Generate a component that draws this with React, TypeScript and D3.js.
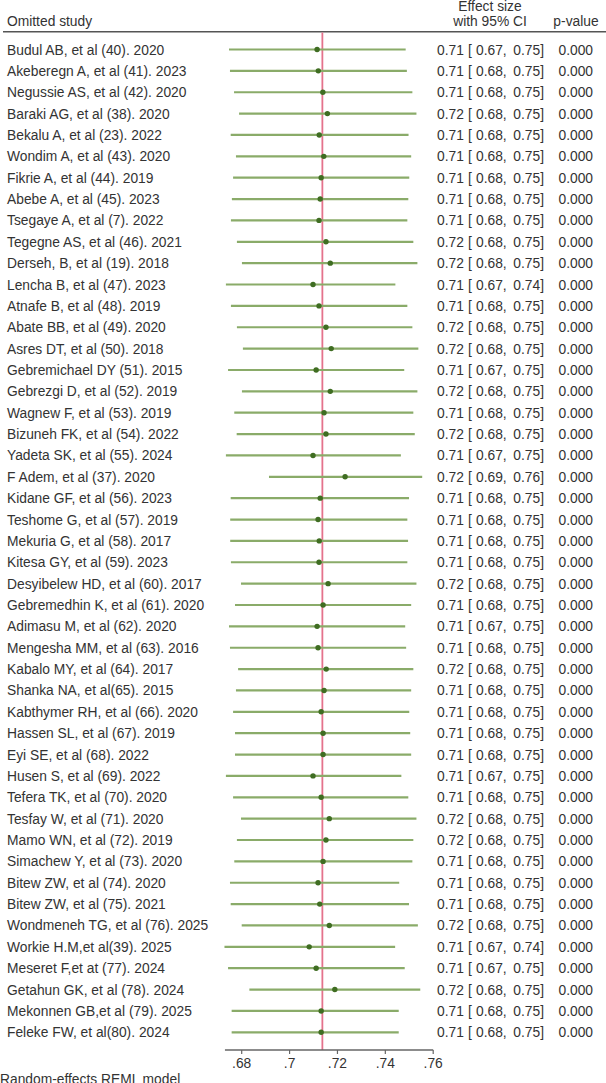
import React, { useEffect, useRef } from "react";
import * as d3 from "d3";

// Leave-one-out sensitivity analysis (random-effects REML)
const studies = [
  "Budul AB, et al (40). 2020",
  "Akeberegn A, et al (41). 2023",
  "Negussie AS, et al (42). 2020",
  "Baraki AG, et al (38). 2020",
  "Bekalu A, et al (23). 2022",
  "Wondim A, et al (43). 2020",
  "Fikrie A, et al (44). 2019",
  "Abebe A, et al (45). 2023",
  "Tsegaye A, et al (7). 2022",
  "Tegegne AS, et al (46). 2021",
  "Derseh, B, et al (19). 2018",
  "Lencha B, et al (47). 2023",
  "Atnafe B, et al (48). 2019",
  "Abate BB, et al (49). 2020",
  "Asres DT, et al (50). 2018",
  "Gebremichael DY (51). 2015",
  "Gebrezgi D, et al (52). 2019",
  "Wagnew F, et al (53). 2019",
  "Bizuneh FK, et al (54). 2022",
  "Yadeta SK, et al (55). 2024",
  "F Adem, et al (37). 2020",
  "Kidane GF, et al (56). 2023",
  "Teshome G, et al (57). 2019",
  "Mekuria G, et al (58). 2017",
  "Kitesa GY, et al (59). 2023",
  "Desyibelew HD, et al (60). 2017",
  "Gebremedhin K, et al (61). 2020",
  "Adimasu M, et al (62). 2020",
  "Mengesha MM, et al (63). 2016",
  "Kabalo MY, et al (64). 2017",
  "Shanka NA, et al(65). 2015",
  "Kabthymer RH, et al (66). 2020",
  "Hassen SL, et al (67). 2019",
  "Eyi SE, et al (68). 2022",
  "Husen S, et al (69). 2022",
  "Tefera TK, et al (70). 2020",
  "Tesfay W, et al (71). 2020",
  "Mamo WN, et al (72). 2019",
  "Simachew Y, et al (73). 2020",
  "Bitew ZW, et al (74). 2020",
  "Bitew ZW, et al (75). 2021",
  "Wondmeneh TG, et al (76). 2025",
  "Workie H.M,et al(39). 2025",
  "Meseret F,et at (77). 2024",
  "Getahun GK, et al (78). 2024",
  "Mekonnen GB,et al (79). 2025",
  "Feleke FW, et al(80). 2024",
];

const estimates = [
  0.7115, 0.712, 0.7139, 0.7158, 0.7124, 0.7143, 0.7132, 0.7128, 0.7123, 0.7152,
  0.717, 0.7098, 0.7123, 0.7152, 0.7174, 0.7111, 0.717, 0.7144, 0.7152, 0.7098,
  0.7232, 0.7128, 0.7119, 0.7124, 0.7123, 0.7161, 0.714, 0.7115, 0.7119, 0.7153,
  0.7144, 0.7132, 0.714, 0.714, 0.7098, 0.7132, 0.7166, 0.7152, 0.714, 0.7119,
  0.7126, 0.7166, 0.7082, 0.7111, 0.7189, 0.7132, 0.7132,
];

const lower = [
  0.6747, 0.6751, 0.6768, 0.6789, 0.6754, 0.6776, 0.6764, 0.6759, 0.6755, 0.678,
  0.6801, 0.6734, 0.6755, 0.678, 0.6805, 0.6743, 0.6801, 0.6769, 0.6779, 0.6734,
  0.6914, 0.6754, 0.6752, 0.6752, 0.6755, 0.6797, 0.6772, 0.6747, 0.6751, 0.6785,
  0.6776, 0.6764, 0.6772, 0.6772, 0.6734, 0.6764, 0.6797, 0.678, 0.6769, 0.6751,
  0.6754, 0.68, 0.6728, 0.6743, 0.6832, 0.6758, 0.6758,
];

const upper = [
  0.7485, 0.749, 0.7513, 0.753, 0.7497, 0.7508, 0.75, 0.7496, 0.7492, 0.7517,
  0.7534, 0.7442, 0.7492, 0.7513, 0.7538, 0.7479, 0.7534, 0.7517, 0.7523, 0.7465,
  0.7554, 0.7499, 0.7492, 0.7495, 0.7492, 0.753, 0.7508, 0.7483, 0.7487, 0.7517,
  0.7508, 0.75, 0.7504, 0.7508, 0.7467, 0.7496, 0.753, 0.7517, 0.7513, 0.7458,
  0.7499, 0.7536, 0.7441, 0.7481, 0.7546, 0.7456, 0.7456,
];

const pValues = new Array(studies.length).fill(0);

const overall = 0.7137;
const xTicks = [0.68, 0.7, 0.72, 0.74, 0.76];

const WIDTH = 606;
const HEIGHT = 1083;
const FONT = "'Liberation Sans', Arial, sans-serif";
const FONT_SIZE = 13.8;
const TEXT = "#333";

const ForestPlot: React.FC = () => {
  const svgRef = useRef<SVGSVGElement>(null);

  useEffect(() => {
    if (!svgRef.current) return;
    const svg = d3.select(svgRef.current);
    svg.selectAll("*").remove();

    const x = d3.scaleLinear().domain([0.68, 0.76]).range([241.7, 433.2]);
    const y = d3.scalePoint<number>()
      .domain(d3.range(studies.length))
      .range([49.5, 1032.3]);

    const axisY = 1050;
    const fmt2 = d3.format(".2f");
    const fmt3 = d3.format(".3f");

    // Column headers
    const header = svg.append("g")
      .attr("font-family", FONT)
      .attr("font-size", FONT_SIZE)
      .attr("fill", TEXT);
    header.append("text").attr("x", 7).attr("y", 26).text("Omitted study");
    header.append("text").attr("x", 490).attr("y", 11).attr("text-anchor", "middle").text("Effect size");
    header.append("text").attr("x", 490).attr("y", 26).attr("text-anchor", "middle").text("with 95% CI");
    header.append("text").attr("x", 576).attr("y", 26).attr("text-anchor", "middle").text("p-value");

    svg.append("line")
      .attr("x1", 3).attr("x2", WIDTH)
      .attr("y1", 31.7).attr("y2", 31.7)
      .attr("stroke", "#555").attr("stroke-width", 1.5);

    // Overall pooled estimate reference line
    svg.append("line")
      .attr("x1", x(overall)).attr("x2", x(overall))
      .attr("y1", 32.5).attr("y2", axisY)
      .attr("stroke", "#e4728c").attr("stroke-width", 1.8);

    const rows = svg.append("g")
      .selectAll("g")
      .data(studies.map((name, i) => ({ name, i })))
      .join("g")
      .attr("transform", d => `translate(0,${y(d.i)})`);

    rows.append("line")
      .attr("x1", d => x(lower[d.i]))
      .attr("x2", d => x(upper[d.i]))
      .attr("stroke", "#8aab69")
      .attr("stroke-width", 2.2);

    rows.append("circle")
      .attr("cx", d => x(estimates[d.i]))
      .attr("r", 2.7)
      .attr("fill", "#3f6d22");

    const label = rows.append("g")
      .attr("font-family", FONT)
      .attr("font-size", FONT_SIZE)
      .attr("fill", TEXT);

    label.append("text").attr("x", 7).attr("y", 5).text(d => d.name);
    label.append("text").attr("x", 437).attr("y", 5).text(d => fmt2(estimates[d.i]));
    label.append("text").attr("x", 468).attr("y", 5).text("[");
    label.append("text").attr("x", 476).attr("y", 5).text(d => `${fmt2(lower[d.i])},`);
    label.append("text").attr("x", 544).attr("y", 5).attr("text-anchor", "end")
      .text(d => `${fmt2(upper[d.i])}]`);
    label.append("text").attr("x", 593).attr("y", 5).attr("text-anchor", "end")
      .text(d => fmt3(pValues[d.i]));

    // X axis, Stata-style labels without leading zero
    svg.append("line")
      .attr("x1", x(0.673)).attr("x2", x(0.76))
      .attr("y1", axisY).attr("y2", axisY)
      .attr("stroke", "#666").attr("stroke-width", 1.3);

    const ticks = svg.append("g").selectAll("g")
      .data(xTicks)
      .join("g")
      .attr("transform", d => `translate(${x(d)},${axisY})`);
    ticks.append("line").attr("y1", 0).attr("y2", 4).attr("stroke", "#666").attr("stroke-width", 1.2);
    ticks.append("text")
      .attr("y", 18)
      .attr("text-anchor", "middle")
      .attr("font-family", FONT)
      .attr("font-size", FONT_SIZE)
      .attr("fill", TEXT)
      .text(d => d3.format(".2~f")(d).replace(/^0/, ""));

    svg.append("text")
      .attr("x", 0).attr("y", 1084)
      .attr("font-family", FONT)
      .attr("font-size", FONT_SIZE)
      .attr("fill", TEXT)
      .text("Random-effects REML model");
  }, []);

  return (
    <svg
      ref={svgRef}
      width={WIDTH}
      height={HEIGHT}
      style={{ position: "absolute", left: 0, top: 0, background: "#fff" }}
    />
  );
};

export default function App() {
  return <ForestPlot />;
}
